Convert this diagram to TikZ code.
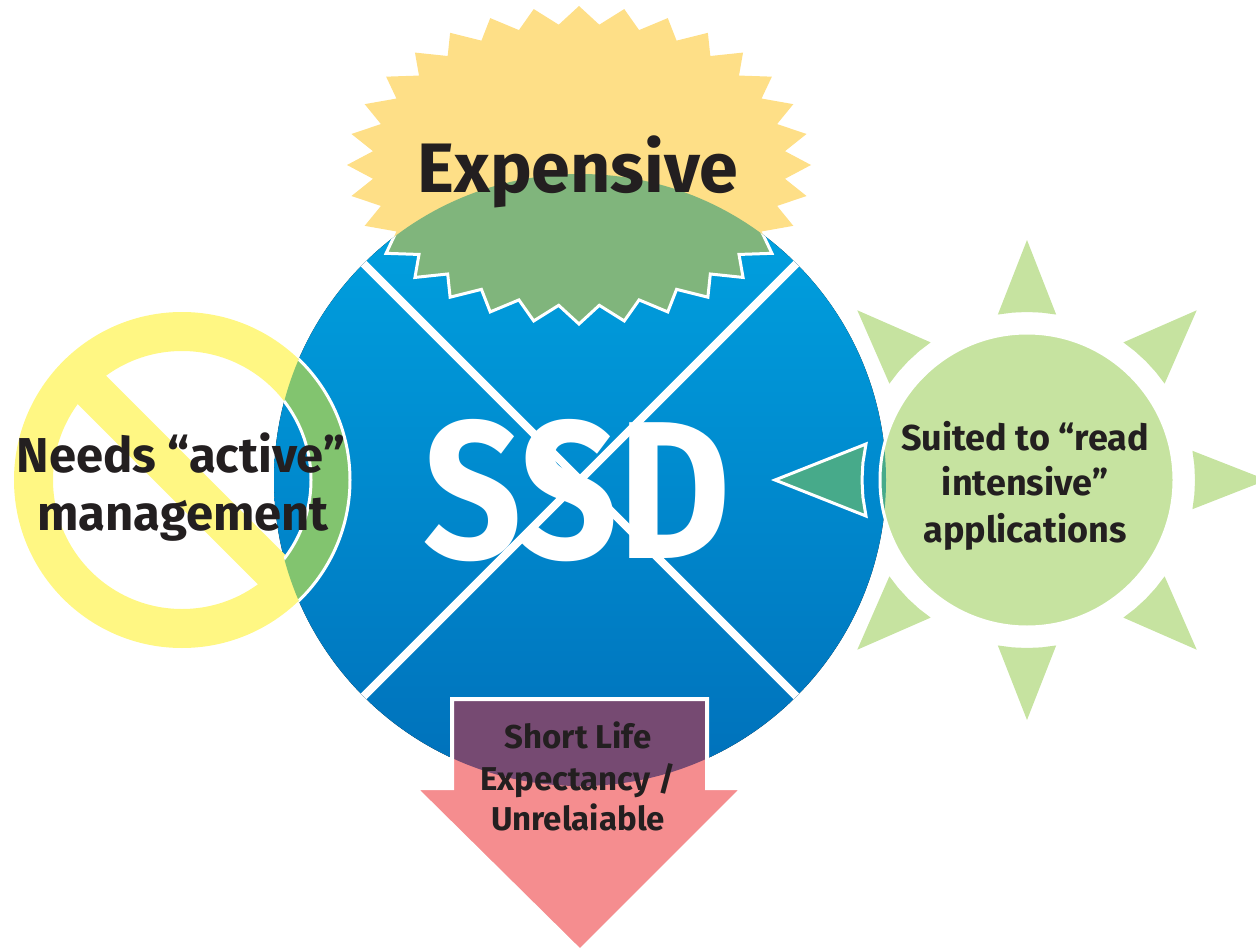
\documentclass[tikz,border=0pt]{standalone}
\usepackage{fontspec}
\newfontfamily\hpf{Fira Sans}
\newfontfamily\hps{Fira Sans}[FakeStretch=0.88]
\definecolor{bluetop}{HTML}{00A4E2}
\definecolor{bluebot}{HTML}{0070BA}
\definecolor{staryellow}{HTML}{FEDF87}
\definecolor{stargreen}{HTML}{80B57C}
\definecolor{noyellow}{HTML}{FFF783}
\definecolor{nogreen}{HTML}{82C46F}
\definecolor{sungreen}{HTML}{C6E3A0}
\definecolor{teal}{HTML}{47AA8A}
\definecolor{pink}{HTML}{F58D8F}
\definecolor{purple}{HTML}{764A72}
\definecolor{txt}{HTML}{231F20}
\begin{document}
\begin{tikzpicture}[x=1pt,y=-1pt,
  lbl/.style={text=txt, inner sep=0pt, font=\hpf\bfseries},
  outline/.style={draw=white, line width=3pt, line join=miter}]
\useasboundingbox (0,0) rectangle (1256,950);
\def\bluecirc{(580,480) circle (306pt)}
\def\starpath{([shift={(579,165)}]0:232 and 159) \foreach \a in {0,11.25,...,348.75}{ -- ([shift={(579,165)}]\a+5.625:207 and 141) -- ([shift={(579,165)}]\a+11.25:232 and 159)} -- cycle}
\def\ringpath{(182,480) circle (168pt) (182,480) circle (129pt)}
\def\sunpath{(1027,480) circle (147pt)}
\def\arrowpath{(452,699) -- (707,699) -- (707,788) -- (743,788) -- (580,951) -- (415,788) -- (452,788) -- cycle}
% main blue circle
\fill[top color=bluetop, bottom color=bluebot] \bluecirc;
\begin{scope}
  \clip \bluecirc;
  \draw[white, line width=8pt] (580,480) -- ++(-230,-230) (580,480) -- ++(230,-230)
        (580,480) -- ++(-230,230) (580,480) -- ++(230,230);
\end{scope}
\node[lbl, text=white, anchor=base, font=\hps\bfseries\fontsize{196}{196}\selectfont] (ssd) at (577,558) {SSD};
% starburst
\fill[staryellow] \starpath;
\begin{scope}
  \clip \bluecirc;
  \fill[stargreen] \starpath;
  \draw[outline] \starpath;
\end{scope}
% no sign
\fill[noyellow, even odd rule] \ringpath;
\fill[noyellow, rotate around={-45:(182,480)}] (52,460) rectangle (312,500);
\begin{scope}
  \clip \bluecirc;
  \fill[nogreen, even odd rule] \ringpath;
  \draw[outline] \ringpath;
\end{scope}
% sun rays
\foreach \a in {0,45,90,135,225,270,315}
  \fill[sungreen] ([shift={(1027,480)}]\a-10:168) -- ([shift={(1027,480)}]\a:240) -- ([shift={(1027,480)}]\a+10:168)
     -- ([shift={(1027,480)}]\a+5:168) -- ([shift={(1027,480)}]\a:168) -- ([shift={(1027,480)}]\a-5:168) -- cycle;
\filldraw[fill=teal, outline] ([shift={(1027,480)}]167.4:165) -- ([shift={(1027,480)}]180:252) -- ([shift={(1027,480)}]192.6:165)
     -- ([shift={(1027,480)}]186:165) -- ([shift={(1027,480)}]180:165) -- ([shift={(1027,480)}]174:165) -- cycle;
\fill[sungreen] \sunpath;
\begin{scope}
  \clip \bluecirc;
  \fill[teal] \sunpath;
\end{scope}
\draw[outline] \sunpath;
% arrow
\fill[pink] \arrowpath;
\begin{scope}
  \clip \bluecirc;
  \fill[purple] \arrowpath;
\end{scope}
\draw[draw=white, line width=4pt] \arrowpath;
% labels
\node[lbl, anchor=base, font=\hpf\bfseries\fontsize{70}{70}\selectfont] (exp) at (578,192) {Expensive};
\node[lbl, anchor=base, font=\hpf\bfseries\fontsize{49}{49}\selectfont] (na1) at (181,472) {Needs “active”};
\node[lbl, anchor=base, font=\hpf\bfseries\fontsize{49}{49}\selectfont] (na2) at (183,530) {management};
\node[lbl, anchor=base, font=\hpf\bfseries\fontsize{36}{36}\selectfont] (sr1) at (1025,450) {Suited to “read};
\node[lbl, anchor=base, font=\hpf\bfseries\fontsize{36}{36}\selectfont] (sr2) at (1025,495) {intensive”};
\node[lbl, anchor=base, font=\hpf\bfseries\fontsize{36}{36}\selectfont] (sr3) at (1025,542) {applications};
\node[lbl, anchor=base, font=\hpf\bfseries\fontsize{33}{33}\selectfont] (sl1) at (578,748) {Short Life};
\node[lbl, anchor=base, font=\hpf\bfseries\fontsize{33}{33}\selectfont] (sl2) at (578,790) {Expectancy /};
\node[lbl, anchor=base, font=\hpf\bfseries\fontsize{33}{33}\selectfont] (sl3) at (578,830) {Unrelaiable};
\end{tikzpicture}
\end{document}
